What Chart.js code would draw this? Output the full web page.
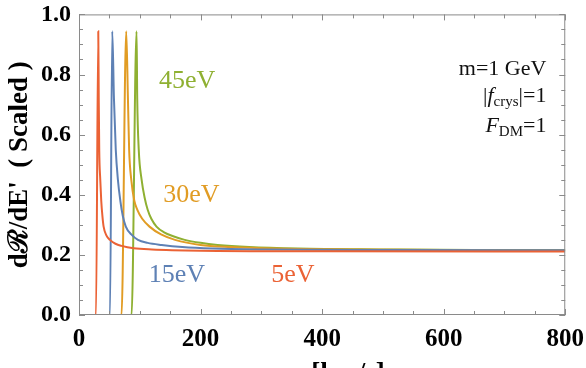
<!DOCTYPE html>
<html>
<head>
<meta charset="utf-8">
<script src="https://cdn.jsdelivr.net/npm/chart.js@4.4.1/dist/chart.umd.min.js"></script>
<style>
  html, body { margin: 0; padding: 0; background: #fff; }
</style>
</head>
<body>
<canvas id="chart" width="586" height="368"></canvas>
<script>
// velocity [km/s] and scaled rate for each energy deposit
const v5  = [0, 28, 31.7, 32.5, 33.3, 35, 36.6, 38.5, 40.5, 45, 51, 60, 70, 90, 120, 200, 400, 800]
const r5  = [0, 0, 0.944, 0.72, 0.55, 0.45, 0.38, 0.33, 0.294, 0.265, 0.25, 0.237, 0.23, 0.222, 0.218, 0.214, 0.212, 0.211]

const v15 = [0, 51, 54.7, 57.5, 60.5, 64, 68, 72, 77, 86, 97, 113, 136, 170, 220, 300, 500, 800]
const r15 = [0, 0, 0.944, 0.72, 0.55, 0.45, 0.38, 0.33, 0.294, 0.268, 0.25, 0.24, 0.233, 0.226, 0.221, 0.218, 0.216, 0.215]

const v30 = [0, 70, 77.7, 80.5, 82.5, 86, 91, 96, 104, 116, 135, 158, 200, 250, 320, 450, 600, 800]
const r30 = [0, 0, 0.944, 0.72, 0.55, 0.45, 0.38, 0.35, 0.32, 0.294, 0.268, 0.25, 0.233, 0.226, 0.221, 0.218, 0.216, 0.215]

const v45 = [0, 86.5, 94.7, 95.8, 98.3, 103, 108, 113, 119, 127.5, 140, 155, 174, 200, 228, 280, 360, 500, 650, 800]
const r45 = [0, 0, 0.944, 0.72, 0.55, 0.45, 0.39, 0.35, 0.32, 0.294, 0.275, 0.262, 0.25, 0.24, 0.233, 0.226, 0.221, 0.218, 0.216, 0.216]

const energyLabels = ["5eV", "15eV", "30eV", "45eV"]
const labelV = [352, 161, 185, 178]
const labelR = [0.133, 0.133, 0.40, 0.778]
const colors = ["#EB6235", "#5E81B5", "#E19C24", "#8FB032"]

const xTicks = [0, 200, 400, 600, 800]
const yTicks = [0.0, 0.2, 0.4, 0.6, 0.8, 1.0]

const pts = (xs, ys) => xs.map((x, i) => ({x: x, y: ys[i]}))
const serif = "'Liberation Serif', 'Times New Roman', serif"

// draws pieces of text (for subscripts) starting at x0
function drawParts(ctx, parts, x0, base) {
    let cx = x0
    parts.forEach(p => {
        ctx.font = p.f
        ctx.fillText(p.t, cx, base + p.dy)
        cx += ctx.measureText(p.t).width
    })
}
function partsWidth(ctx, parts) {
    let w = 0
    parts.forEach(p => { ctx.font = p.f; w += ctx.measureText(p.t).width })
    return w
}

const frameTicks = {
    id: "frameTicks",
    afterDraw(chart) {
        const {ctx, chartArea: a, scales: {x, y}} = chart
        ctx.save()
        ctx.strokeStyle = "#8a8a8a"
        ctx.lineWidth = 1
        ctx.strokeRect(a.left + 0.5, a.top + 0.5, a.right - a.left - 1, a.bottom - a.top - 1)

        // inward ticks on all four sides
        ctx.beginPath()
        for (let v = 0; v <= 800; v += 50) {
            const px = Math.round(x.getPixelForValue(v)) + 0.5
            const len = v % 200 === 0 ? 6 : 4
            ctx.moveTo(px, a.bottom); ctx.lineTo(px, a.bottom - len)
            ctx.moveTo(px, a.top); ctx.lineTo(px, a.top + len)
        }
        for (let k = 0; k <= 20; k++) {
            const py = Math.round(y.getPixelForValue(k * 0.05)) + 0.5
            const len = k % 4 === 0 ? 6 : 4
            ctx.moveTo(a.left, py); ctx.lineTo(a.left + len, py)
            ctx.moveTo(a.right, py); ctx.lineTo(a.right - len, py)
        }
        ctx.stroke()

        // curve labels
        ctx.font = "26px " + serif
        ctx.textAlign = "center"
        ctx.textBaseline = "middle"
        energyLabels.forEach((t, i) => {
            ctx.fillStyle = colors[i]
            ctx.fillText(t, x.getPixelForValue(labelV[i]), y.getPixelForValue(labelR[i]))
        })

        // parameter box, right aligned
        const right = x.getPixelForValue(769)
        const big = "22px " + serif
        const ital = "italic 22px " + serif
        const sub = "15px " + serif
        const lines = [
            {r: 0.823, parts: [{t: "m=1 GeV", f: big, dy: 0}]},
            {r: 0.733, parts: [{t: "|", f: big, dy: 0}, {t: "f", f: ital, dy: 0}, {t: "crys", f: sub, dy: 4}, {t: "|=1", f: big, dy: 0}]},
            {r: 0.633, parts: [{t: "F", f: ital, dy: 0}, {t: "DM", f: sub, dy: 4}, {t: "=1", f: big, dy: 0}]}
        ]
        ctx.fillStyle = "#111"
        ctx.textAlign = "left"
        ctx.textBaseline = "alphabetic"
        lines.forEach(line => {
            const w = partsWidth(ctx, line.parts)
            drawParts(ctx, line.parts, right - w, y.getPixelForValue(line.r) + 7)
        })

        // x axis title, mostly cut off by the bottom edge
        ctx.fillStyle = "#000"
        const xt = [
            {t: "v", f: "bold 27px " + serif, dy: 0},
            {t: "min", f: "bold 19px " + serif, dy: 6},
            {t: " [km/s]", f: "bold 27px " + serif, dy: 0}
        ]
        const xw = partsWidth(ctx, xt)
        drawParts(ctx, xt, (a.left + a.right) / 2 - xw / 2, 381)
        ctx.restore()
    }
}

const ctx = document.getElementById("chart").getContext("2d")

new Chart(ctx, {
    type: "line",
    data: {
        datasets: [
            {label: "5eV", data: pts(v5, r5)},
            {label: "15eV", data: pts(v15, r15)},
            {label: "30eV", data: pts(v30, r30)},
            {label: "45eV", data: pts(v45, r45)}
        ].map((d, i) => Object.assign(d, {
            borderColor: colors[i],
            borderWidth: 2,
            pointRadius: 0,
            fill: false,
            cubicInterpolationMode: "monotone"
        }))
    },
    options: {
        responsive: false,
        animation: false,
        devicePixelRatio: 1,
        layout: {padding: {top: 1, right: 2, left: 0, bottom: 0}},
        plugins: {legend: {display: false}, tooltip: {enabled: false}},
        scales: {
            x: {
                type: "linear",
                min: 0,
                max: 800,
                afterBuildTicks: s => { s.ticks = xTicks.map(v => ({value: v})) },
                afterFit: s => { s.height = 53 },
                grid: {display: false},
                border: {display: false},
                ticks: {
                    color: "#000",
                    padding: 2,
                    maxRotation: 0,
                    font: {family: serif, size: 25, weight: "bold"}
                },
                title: {display: false}
            },
            y: {
                min: 0,
                max: 1,
                afterBuildTicks: s => { s.ticks = yTicks.map(v => ({value: v})) },
                afterFit: s => { s.width = 79 },
                grid: {display: false},
                border: {display: false},
                ticks: {
                    color: "#000",
                    padding: 0,
                    font: {family: serif, size: 24, weight: "bold"},
                    callback: v => v.toFixed(1)
                },
                title: {
                    display: true,
                    text: "dℛ/dE'  ( Scaled )",
                    color: "#000",
                    padding: {top: 4, bottom: 0},
                    font: {family: serif, size: 27, weight: "bold"}
                }
            }
        }
    },
    plugins: [frameTicks]
})
</script>
</body>
</html>
